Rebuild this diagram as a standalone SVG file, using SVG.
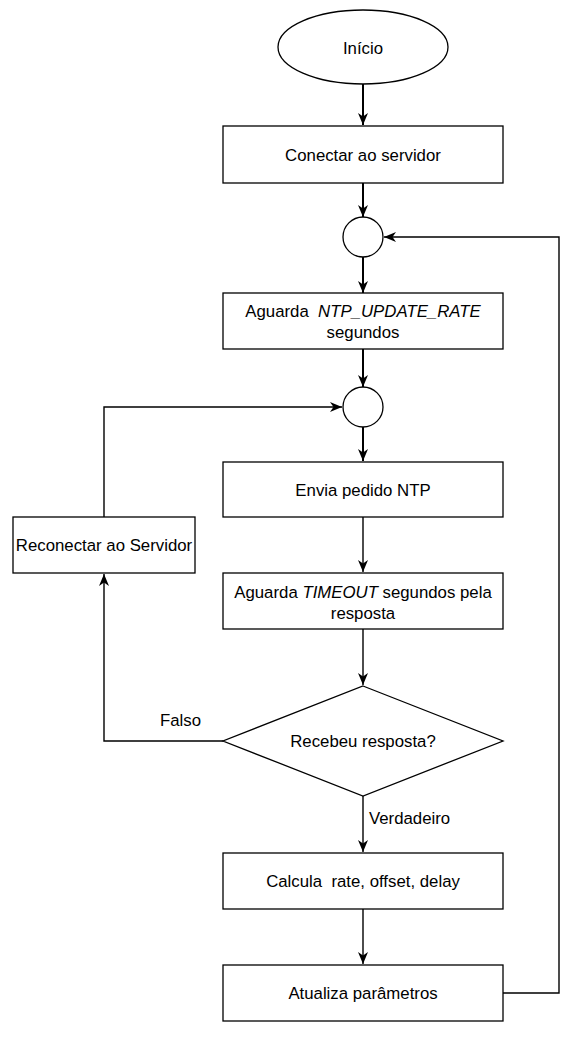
<svg xmlns="http://www.w3.org/2000/svg" width="576" height="1050" viewBox="0 0 576 1050">
<style>
.n{fill:#fff;stroke:#000;stroke-width:1.3}
.t{font-family:"Liberation Sans",Arial,sans-serif;font-size:16.8px;fill:#000;text-anchor:middle}
.l{font-family:"Liberation Sans",Arial,sans-serif;font-size:16.8px;fill:#000}
.c{fill:none;stroke:#000;stroke-width:1.4}
.b{stroke-width:2}
</style>
<defs>
<marker id="a" viewBox="0 0 12 10" refX="12" refY="5" markerWidth="12" markerHeight="10" orient="auto" markerUnits="userSpaceOnUse">
<path d="M0,0 L12,5 L0,10 L3.5,5 Z" fill="#000"/>
</marker>
</defs>
<rect width="576" height="1050" fill="#fff"/>
<g id="connectors">
<path class="c b" d="M363,84 V125" marker-end="url(#a)"/>
<path class="c b" d="M363,183 V217" marker-end="url(#a)"/>
<path class="c b" d="M363,257 V293" marker-end="url(#a)"/>
<path class="c b" d="M363,349 V387" marker-end="url(#a)"/>
<path class="c b" d="M363,427 V461" marker-end="url(#a)"/>
<path class="c" d="M363,517 V572" marker-end="url(#a)"/>
<path class="c" d="M363,629 V685" marker-end="url(#a)"/>
<path class="c" d="M363,796 V852" marker-end="url(#a)"/>
<path class="c" d="M363,909 V964" marker-end="url(#a)"/>
<path class="c" d="M503,993 H559 V237 H384" marker-end="url(#a)"/>
<path class="c" d="M104,517 V407 H342" marker-end="url(#a)"/>
<path class="c" d="M223,741 H104 V574" marker-end="url(#a)"/>
<text class="l" x="160" y="726">Falso</text>
<text class="l" x="369" y="824">Verdadeiro</text>
</g>
<g id="inicio"><ellipse class="n" cx="363" cy="47" rx="85" ry="37"/><text class="t" x="363" y="54">Início</text></g>
<g id="conectar"><rect class="n" x="223" y="126" width="280" height="57"/><text class="t" x="363" y="161">Conectar ao servidor</text></g>
<g id="junc1"><circle class="n" cx="363" cy="237" r="20"/></g>
<g id="aguarda1"><rect class="n" x="223" y="293" width="280" height="56"/><text class="t" x="363" y="317" xml:space="preserve">Aguarda  <tspan font-style="italic">NTP_UPDATE_RATE</tspan></text><text class="t" x="363" y="338">segundos</text></g>
<g id="junc2"><circle class="n" cx="363" cy="407" r="20"/></g>
<g id="envia"><rect class="n" x="223" y="462" width="280" height="55"/><text class="t" x="363" y="496">Envia pedido NTP</text></g>
<g id="aguarda2"><rect class="n" x="223" y="573" width="280" height="56"/><text class="t" x="363" y="598">Aguarda <tspan font-style="italic">TIMEOUT</tspan> segundos pela</text><text class="t" x="363" y="619">resposta</text></g>
<g id="recebeu"><polygon class="n" points="363,686 503,741 363,796 223,741"/><text class="t" x="363" y="747">Recebeu resposta?</text></g>
<g id="calcula"><rect class="n" x="223" y="853" width="280" height="56"/><text class="t" x="363" y="887" xml:space="preserve">Calcula  rate, offset, delay</text></g>
<g id="atualiza"><rect class="n" x="223" y="965" width="280" height="56"/><text class="t" x="363" y="999">Atualiza parâmetros</text></g>
<g id="reconectar"><rect class="n" x="13" y="517" width="182" height="56"/><text class="t" x="104" y="551">Reconectar ao Servidor</text></g>
</svg>
